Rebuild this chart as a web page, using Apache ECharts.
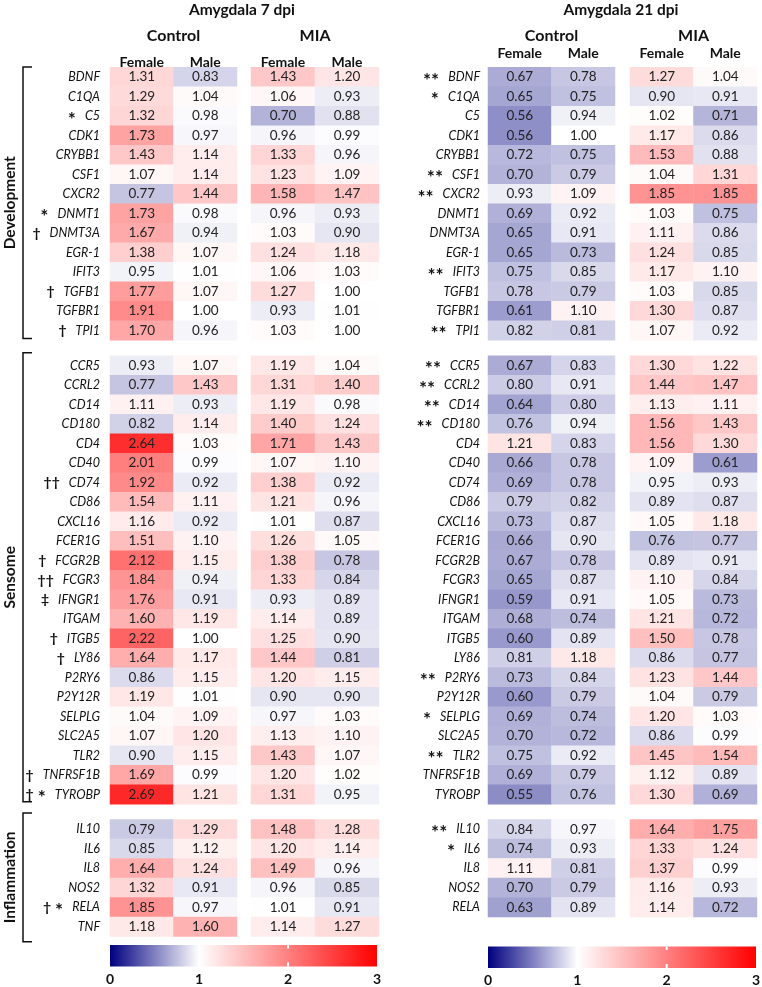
<!DOCTYPE html>
<html><head><meta charset="utf-8">
<script src="https://cdn.jsdelivr.net/npm/echarts@6/dist/echarts.min.js"></script>
<style>html,body{margin:0;padding:0;background:#fff}#c{width:762px;height:987px}</style>
</head><body><div id="c"></div><script>
// ---------- labels ----------
const panelTitles = ['Amygdala 7 dpi', 'Amygdala 21 dpi'];
const conditionLabels = ['Control', 'MIA'];
const sexLabels = ['Female', 'Male'];
const groupLabels = ['Development', 'Sensome', 'Inflammation'];
const colorbarTicks = [0, 1, 2, 3];

const genesDev = ['BDNF','C1QA','C5','CDK1','CRYBB1','CSF1','CXCR2','DNMT1','DNMT3A','EGR-1','IFIT3','TGFB1','TGFBR1','TPI1'];
const genesSens = ['CCR5','CCRL2','CD14','CD180','CD4','CD40','CD74','CD86','CXCL16','FCER1G','FCGR2B','FCGR3','IFNGR1','ITGAM','ITGB5','LY86','P2RY6','P2Y12R','SELPLG','SLC2A5','TLR2','TNFRSF1B','TYROBP'];
const genesInfl7 = ['IL10','IL6','IL8','NOS2','RELA','TNF'];
const genesInfl21 = ['IL10','IL6','IL8','NOS2','RELA'];

// ---------- significance marks ----------
const d7DevAnn = ['','','*','','','','','*','†','','','†','','†'];
const d7SensAnn = ['','','','','','','††','','','','†','††','‡','','†','†','','','','','','†','† *'];
const d7InflAnn = ['','','','','† *',''];
const d21DevAnn = ['**','*','','','','**','**','','','','**','','','**'];
const d21SensAnn = ['**','**','**','**','','','','','','','','','','','','','**','','*','','**','',''];
const d21InflAnn = ['**','*','','',''];

// ---------- values: Amygdala 7 dpi ----------
const d7DevCF = [1.31,1.29,1.32,1.73,1.43,1.07,0.77,1.73,1.67,1.38,0.95,1.77,1.91,1.70];
const d7DevCM = [0.83,1.04,0.98,0.97,1.14,1.14,1.44,0.98,0.94,1.07,1.01,1.07,1.00,0.96];
const d7DevMF = [1.43,1.06,0.70,0.96,1.33,1.23,1.58,0.96,1.03,1.24,1.06,1.27,0.93,1.03];
const d7DevMM = [1.20,0.93,0.88,0.99,0.96,1.09,1.47,0.93,0.90,1.18,1.03,1.00,1.01,1.00];

const d7SensCF = [0.93,0.77,1.11,0.82,2.64,2.01,1.92,1.54,1.16,1.51,2.12,1.84,1.76,1.60,2.22,1.64,0.86,1.19,1.04,1.07,0.90,1.69,2.69];
const d7SensCM = [1.07,1.43,0.93,1.14,1.03,0.99,0.92,1.11,0.92,1.10,1.15,0.94,0.91,1.19,1.00,1.17,1.15,1.01,1.09,1.20,1.15,0.99,1.21];
const d7SensMF = [1.19,1.31,1.19,1.40,1.71,1.07,1.38,1.21,1.01,1.26,1.38,1.33,0.93,1.14,1.25,1.44,1.20,0.90,0.97,1.13,1.43,1.20,1.31];
const d7SensMM = [1.04,1.40,0.98,1.24,1.43,1.10,0.92,0.96,0.87,1.05,0.78,0.84,0.89,0.89,0.90,0.81,1.15,0.90,1.03,1.10,1.07,1.02,0.95];

const d7InflCF = [0.79,0.85,1.64,1.32,1.85,1.18];
const d7InflCM = [1.29,1.12,1.24,0.91,0.97,1.60];
const d7InflMF = [1.48,1.20,1.49,0.96,1.01,1.14];
const d7InflMM = [1.28,1.14,0.96,0.85,0.91,1.27];

// ---------- values: Amygdala 21 dpi ----------
const d21DevCF = [0.67,0.65,0.56,0.56,0.72,0.70,0.93,0.69,0.65,0.65,0.75,0.78,0.61,0.82];
const d21DevCM = [0.78,0.75,0.94,1.00,0.75,0.79,1.09,0.92,0.91,0.73,0.85,0.79,1.10,0.81];
const d21DevMF = [1.27,0.90,1.02,1.17,1.53,1.04,1.85,1.03,1.11,1.24,1.17,1.03,1.30,1.07];
const d21DevMM = [1.04,0.91,0.71,0.86,0.88,1.31,1.85,0.75,0.86,0.85,1.10,0.85,0.87,0.92];

const d21SensCF = [0.67,0.80,0.64,0.76,1.21,0.66,0.69,0.79,0.73,0.66,0.67,0.65,0.59,0.68,0.60,0.81,0.73,0.60,0.69,0.70,0.75,0.69,0.55];
const d21SensCM = [0.83,0.91,0.80,0.94,0.83,0.78,0.78,0.82,0.87,0.90,0.78,0.87,0.91,0.74,0.89,1.18,0.84,0.79,0.74,0.72,0.92,0.79,0.76];
const d21SensMF = [1.30,1.44,1.13,1.56,1.56,1.09,0.95,0.89,1.05,0.76,0.89,1.10,1.05,1.21,1.50,0.86,1.23,1.04,1.20,0.86,1.45,1.12,1.30];
const d21SensMM = [1.22,1.47,1.11,1.43,1.30,0.61,0.93,0.87,1.18,0.77,0.91,0.84,0.73,0.72,0.78,0.77,1.44,0.79,1.03,0.99,1.54,0.89,0.69];

const d21InflCF = [0.84,0.74,1.11,0.70,0.63];
const d21InflCM = [0.97,0.93,0.81,0.79,0.89];
const d21InflMF = [1.64,1.33,1.37,1.16,1.14];
const d21InflMM = [1.75,1.24,0.99,0.93,0.72];

// ---------- layout ----------
const FONT = 'Lato';
const ROW_H = 19.5;
const GROUP_TOPS = [67.3, 355.8, 819.5];
const COLOR_STOPS = ['#000080','#8080c0','#ffffff','#ffbfbf','#ff8080','#ff4040','#ff0000'];

const panels = [
  {
    groups: [
      { genes: genesDev, ann: d7DevAnn, cols: [[d7DevCF, d7DevCM], [d7DevMF, d7DevMM]] },
      { genes: genesSens, ann: d7SensAnn, cols: [[d7SensCF, d7SensCM], [d7SensMF, d7SensMM]] },
      { genes: genesInfl7, ann: d7InflAnn, cols: [[d7InflCF, d7InflCM], [d7InflMF, d7InflMM]] }
    ],
    gridX: [[110, 127], [251, 128]],
    labelMargin: 10, headerMargin: 5,
    titleX: 242, cb: { x: 110, y: 945, w: 267, h: 21.5, ly: 979 }
  },
  {
    groups: [
      { genes: genesDev, ann: d21DevAnn, cols: [[d21DevCF, d21DevCM], [d21DevMF, d21DevMM]] },
      { genes: genesSens, ann: d21SensAnn, cols: [[d21SensCF, d21SensCM], [d21SensMF, d21SensMM]] },
      { genes: genesInfl21, ann: d21InflAnn, cols: [[d21InflCF, d21InflCM], [d21InflMF, d21InflMM]] }
    ],
    gridX: [[488, 127], [630, 127]],
    labelMargin: 8, headerMargin: 14,
    titleX: 621, cb: { x: 488, y: 946.5, w: 268, h: 21.5, ly: 980 }
  }
];

function annText(s) {
  let out = '';
  for (const ch of s) {
    if (ch === '*') out += '{s|*}';
    else if (ch === ' ') out += '{sp2|}';
    else out += '{d|' + ch + '}';
  }
  return out + '{sp|}';
}

const grids = [], xAxes = [], yAxes = [], series = [], graphics = [];

panels.forEach((p, pi) => {
  p.groups.forEach((g, gi) => {
    g.cols.forEach((pair, ci) => {
      const idx = grids.length;
      grids.push({ left: p.gridX[ci][0], width: p.gridX[ci][1], top: GROUP_TOPS[gi], height: g.genes.length * ROW_H });
      xAxes.push({
        type: 'category', gridIndex: idx, data: sexLabels, position: 'top', z: 10,
        axisLine: { show: false }, axisTick: { show: false }, splitLine: { show: false },
        axisLabel: { show: gi === 0, interval: 0, margin: p.headerMargin, verticalAlign: 'middle',
          fontFamily: FONT, fontWeight: 'bold', fontSize: 14, color: '#111' }
      });
      const ann = g.ann;
      yAxes.push({
        type: 'category', gridIndex: idx, data: g.genes, inverse: true,
        axisLine: { show: false }, axisTick: { show: false }, splitLine: { show: false },
        axisLabel: {
          show: ci === 0, margin: p.labelMargin, interval: 0,
          showMinLabel: true, showMaxLabel: true, hideOverlap: false,
          formatter: (v, i) => (ann[i] ? annText(ann[i]) : '') + '{g|' + v + '}',
          rich: {
            s: { fontFamily: FONT, fontSize: 19, fontWeight: 'bold', color: '#111', lineHeight: 14, padding: [7, 0, 0, 0] },
            d: { fontFamily: FONT, fontSize: 14, fontWeight: 'bold', color: '#111', lineHeight: 14 },
            sp: { width: 9 },
            sp2: { width: 4 },
            g: { fontFamily: FONT, fontSize: 12.5, fontStyle: 'italic', color: '#111', lineHeight: 14 }
          }
        }
      });
      const data = [];
      g.genes.forEach((_, ri) => {
        data.push([0, ri, pair[0][ri]]);
        data.push([1, ri, pair[1][ri]]);
      });
      series.push({
        type: 'heatmap', xAxisIndex: idx, yAxisIndex: idx, data: data,
        itemStyle: { borderWidth: 0 },
        emphasis: { disabled: true },
        label: { show: true, formatter: q => q.value[2].toFixed(2), fontFamily: FONT, fontSize: 13.5, color: '#222' }
      });
    });
  });

  // panel title
  graphics.push({ type: 'text', x: p.titleX, y: 10, style: { text: panelTitles[pi], font: 'bold 15.5px ' + FONT, fill: '#111', align: 'center', verticalAlign: 'middle' } });
  // condition headers
  p.gridX.forEach((gx, ci) => {
    graphics.push({ type: 'text', x: gx[0] + gx[1] / 2, y: 36, style: { text: conditionLabels[ci], font: 'bold 16px ' + FONT, fill: '#111', align: 'center', verticalAlign: 'middle' } });
  });
  // colorbar
  const cb = p.cb;
  graphics.push({ type: 'rect', shape: { x: cb.x, y: cb.y, width: cb.w, height: cb.h },
    style: { fill: { type: 'linear', x: 0, y: 0, x2: 1, y2: 0,
      colorStops: COLOR_STOPS.map((c, i) => ({ offset: i / (COLOR_STOPS.length - 1), color: c })) } } });
  colorbarTicks.forEach((t, ti) => {
    const tx = cb.x + cb.w * t / 3;
    if (t > 0 && t < 3) {
      graphics.push({ type: 'rect', shape: { x: tx - 1, y: cb.y, width: 2, height: 3.5 }, style: { fill: '#fff' } });
      graphics.push({ type: 'rect', shape: { x: tx - 1, y: cb.y + cb.h - 4, width: 2, height: 4 }, style: { fill: '#fff' } });
    }
    graphics.push({ type: 'text', x: tx, y: cb.ly, style: { text: String(t), font: 'bold 14px ' + FONT, fill: '#111', align: 'center', verticalAlign: 'middle' } });
  });
});

// left-panel group brackets and labels
const brackets = [[67, 338.5], [352.7, 801.7], [813, 941.7]];
brackets.forEach((b, i) => {
  graphics.push({ type: 'polyline', shape: { points: [[32, b[0]], [23, b[0]], [23, b[1]], [32, b[1]]] },
    style: { stroke: '#111', lineWidth: 1.5, fill: null } });
  graphics.push({ type: 'text', x: 9.5, y: (b[0] + b[1]) / 2, rotation: Math.PI / 2,
    style: { text: groupLabels[i], font: 'bold 15.5px ' + FONT, fill: '#111', align: 'center', verticalAlign: 'middle' } });
});

const chart = echarts.init(document.getElementById('c'), null, { renderer: 'canvas' });
chart.setOption({
  backgroundColor: '#fff',
  animation: false,
  grid: grids, xAxis: xAxes, yAxis: yAxes, series: series,
  visualMap: { type: 'continuous', show: false, min: 0, max: 3, seriesIndex: series.map((_, i) => i),
    inRange: { color: COLOR_STOPS } },
  graphic: graphics
});
</script></body></html>
